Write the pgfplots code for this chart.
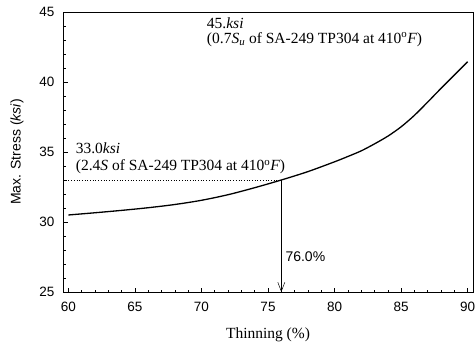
\documentclass[border=0pt]{standalone}
\usepackage{fontspec}
\setmainfont{Liberation Serif}
\newfontfamily\arial{Liberation Sans}
\usepackage{pgfplots}
\pgfplotsset{compat=1.18}
\usetikzlibrary{arrows.meta}
\begin{document}
\begin{tikzpicture}
\begin{axis}[
  scale only axis, width=410pt, height=280pt,
  xmin=59.6, xmax=90.4, ymin=25, ymax=45,
  xtick={60,65,...,90}, ytick={25,30,...,45},
  minor tick num=4,
  tick align=inside,
  xtick pos=left, ytick pos=left,
  major tick length=4.5pt, minor tick length=2.5pt,
  axis line style={line width=0.8pt},
  tick style={line width=0.6pt, black},
  /pgf/number format/assume math mode=true,
  tick label style={font=\arial\fontsize{13.5}{15}\selectfont},
  yticklabel style={xshift=-5pt},
  xticklabel style={yshift=-7pt},
  clip=false,
]
\addplot[black, line width=1.3pt, smooth] coordinates {
(60,30.5) (62,30.66) (64,30.83) (66,31.02) (68,31.25) (70,31.55) (72,31.95)
(74,32.45) (76,33.0) (78,33.6) (80,34.3) (81,34.68) (82,35.08) (83,35.58)
(84,36.13) (85,36.8) (86,37.62) (87,38.57) (88,39.55) (89,40.5) (90,41.45)};
\addplot[black, dotted, line width=0.7pt] coordinates {(59.6,33) (76,33)};
\addplot[black, line width=0.5pt, -{Straight Barb[length=9pt,width=7pt]}] coordinates {(76,33) (76,25)};
\node[anchor=west, inner sep=0pt, font=\fontsize{15.5}{17}\selectfont] at (axis cs:70.4,44.2) {45.\textit{ksi}};
\node[anchor=west, inner sep=0pt, font=\fontsize{15.5}{17}\selectfont] at (axis cs:70.4,43.05) {(0.7\textit{S}\textsubscript{\textit{u}} of SA-249 TP304 at 410\textsuperscript{o}\textit{F})};
\node[anchor=west, inner sep=0pt, font=\fontsize{15.5}{17}\selectfont] at (axis cs:60.55,35.3) {33.0\textit{ksi}};
\node[anchor=west, inner sep=0pt, font=\fontsize{15.5}{17}\selectfont] at (axis cs:60.55,33.95) {(2.4\textit{S} of SA-249 TP304 at 410\textsuperscript{o}\textit{F})};
\node[anchor=west, inner sep=0pt, font=\arial\fontsize{14}{16}\selectfont] at (axis cs:76.3,27.5) {76.0\%};
\end{axis}
\node[rotate=90, font=\arial\fontsize{14}{16}\selectfont] at ([xshift=-46pt]current axis.west) {Max. Stress (\textit{ksi})};
\node[font=\fontsize{15.5}{17}\selectfont] at ([yshift=-43pt]current axis.south) {Thinning (\%)};
\pgfresetboundingbox
\path[use as bounding box] ([shift={(-63pt,-58pt)}]current axis.south west) rectangle ([shift={(2pt,12pt)}]current axis.north east);
\end{tikzpicture}
\end{document}
